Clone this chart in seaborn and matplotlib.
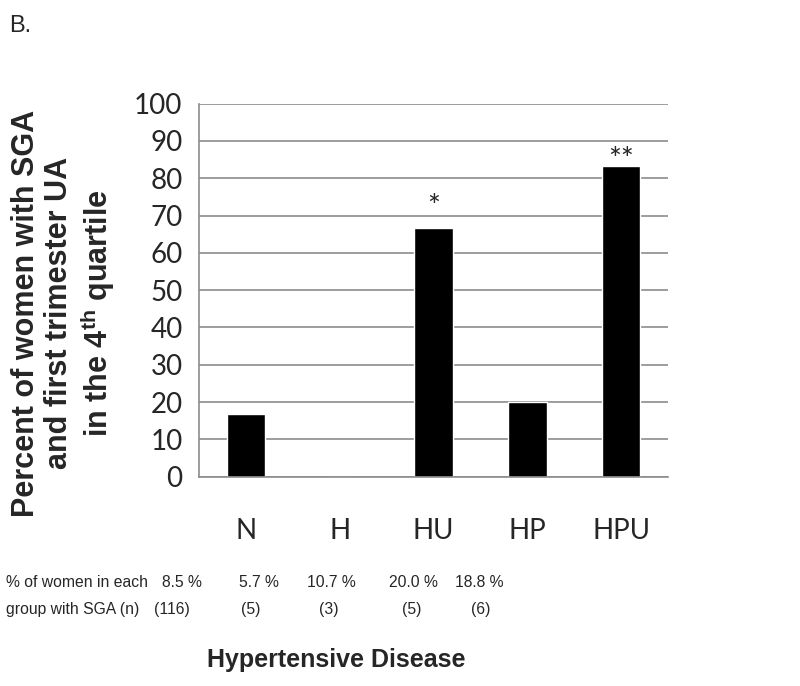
import pandas as pd
import seaborn as sns
import matplotlib.pyplot as plt

# Data
groups = ['N', 'H', 'HU', 'HP', 'HPU']
pct_ua_q4 = [16.7, 0.0, 66.7, 20.0, 83.3]
stars = ['', '', '*', '', '**']
sga_pct = ['8.5 %', '5.7 %', '10.7 %', '20.0 %', '18.8 %']
sga_n = ['(116)', '(5)', '(3)', '(5)', '(6)']

df = pd.DataFrame({'group': groups, 'pct': pct_ua_q4})

sns.set_style('white')
plt.rcParams['font.family'] = ['Lato', 'DejaVu Sans']

fig = plt.figure(figsize=(8, 6.86), dpi=100)
ax = fig.add_axes([0.249, 0.305, 0.586, 0.544])

sns.barplot(data=df, x='group', y='pct', color='black', saturation=1,
            width=0.41, ax=ax)

ax.set_ylim(0, 100)
ax.set_yticks(range(0, 101, 10))
ax.set_xlim(-0.5, 4.5)

# gridlines
ax.set_axisbelow(True)
ax.yaxis.grid(True, color='#8c8c8c', linewidth=1.2)
for s in ['top', 'right']:
    ax.spines[s].set_visible(False)
for s in ['left', 'bottom']:
    ax.spines[s].set_color('#8c8c8c')
    ax.spines[s].set_linewidth(1.2)

ax.tick_params(axis='y', labelsize=20, length=6, width=1.2, color='#8c8c8c', pad=6)
ax.tick_params(axis='x', labelsize=20, length=0, pad=30)
ax.set_xlabel('')
ax.set_ylabel('')

arial = ['Liberation Sans', 'DejaVu Sans']
fig.text(64 / 800, 1 - 313 / 686,
         'Percent of women with SGA\nand first trimester UA\nin the 4$^{\\mathregular{th}}$ quartile',
         fontsize=22, fontweight='bold', family=arial, rotation=90,
         ha='center', va='center', multialignment='center', linespacing=1.12)

# significance stars
for i, (v, s) in enumerate(zip(pct_ua_q4, stars)):
    if s:
        ax.annotate(s, (i, v), xytext=(0, 5 if len(s) == 1 else -6),
                    textcoords='offset points', ha='center', va='bottom', fontsize=22)

# table below the axis
fig.text(0.007, 0.151, '% of women in each', fontsize=11.3, family=arial, va='center')
fig.text(0.007, 0.111, 'group with SGA (n)', fontsize=11.3, family=arial, va='center')
pct_x = [182, 259, 331, 413, 479]
n_x = [172, 251, 329, 412, 481]
for px, nx, p, n in zip(pct_x, n_x, sga_pct, sga_n):
    fig.text(px / 800, 0.151, p, fontsize=11.3, family=arial, ha='center', va='center')
    fig.text(nx / 800, 0.111, n, fontsize=11.3, family=arial, ha='center', va='center')

fig.text(336 / 800, 1 - 660 / 686, 'Hypertensive Disease', fontsize=18, fontweight='bold',
         family=arial, ha='center', va='center')

fig.text(0.012, 0.978, 'B.', fontsize=17, family=arial, va='top')

fig.savefig('out.png', dpi=100)
